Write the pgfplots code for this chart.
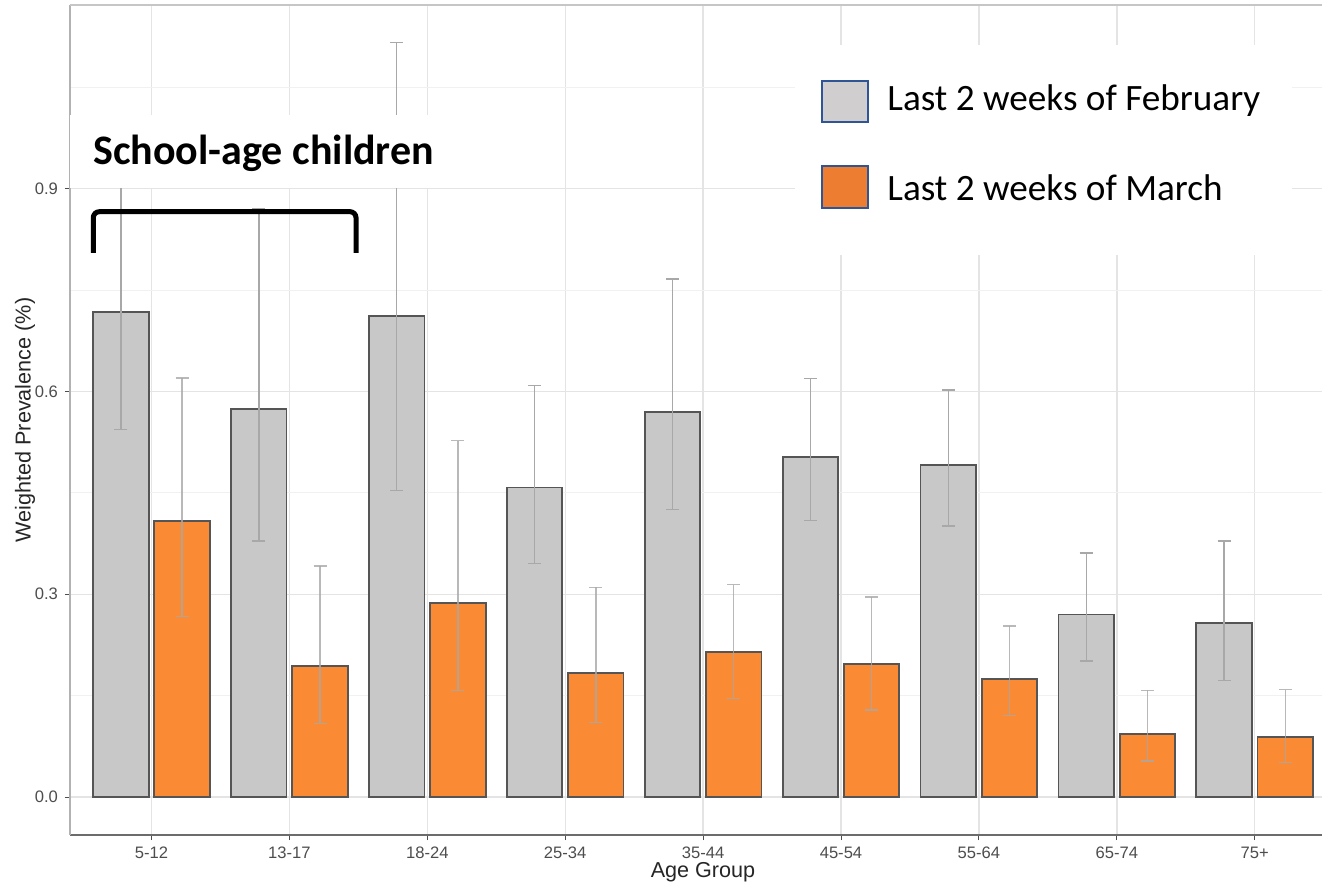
\documentclass[border=0pt]{standalone}
\usepackage{pgfplots}
\pgfplotsset{compat=1.18}
\usepackage{pgfplotstable}
\usepackage{fontspec}
\setmainfont{Liberation Sans}
\newfontfamily\calibri{Carlito}
\definecolor{barGrey}{HTML}{C8C8C8}
\definecolor{barOrange}{HTML}{FA8A33}
\definecolor{barEdge}{HTML}{555555}
\definecolor{errCol}{HTML}{A8A8A8}
\definecolor{legGrey}{HTML}{D0CECE}
\definecolor{legOrange}{HTML}{ED7D31}
\definecolor{legEdge}{HTML}{2F5597}
\definecolor{tickCol}{HTML}{4D4D4D}
\definecolor{gridMaj}{HTML}{E4E4E4}
\definecolor{gridMin}{HTML}{F1F1F1}

\pgfplotstableread{
x y lo hi
0 0.718 0.544 0.960
1 0.574 0.379 0.871
2 0.712 0.453 1.116
3 0.458 0.345 0.609
4 0.570 0.425 0.766
5 0.503 0.409 0.619
6 0.491 0.401 0.602
7 0.270 0.201 0.361
8 0.257 0.172 0.379
}\feb

\pgfplotstableread{
x y lo hi
0 0.408 0.267 0.620
1 0.194 0.109 0.342
2 0.287 0.158 0.527
3 0.184 0.110 0.310
4 0.214 0.146 0.314
5 0.197 0.129 0.296
6 0.174 0.121 0.253
7 0.093 0.053 0.158
8 0.089 0.051 0.159
}\mar

\begin{document}
\begin{tikzpicture}
\begin{axis}[
  at={(0,0)}, anchor=south west,
  scale only axis, width=626pt, height=415pt,
  xmin=-0.591, xmax=8.488, ymin=-0.0562, ymax=1.1716,
  ybar, bar width=27.75pt,
  xtick={0,...,8},
  xticklabels={5-12,13-17,18-24,25-34,35-44,45-54,55-64,65-74,75+},
  ytick={0,0.3,0.6,0.9}, yticklabels={0.0,0.3,0.6,0.9},
  minor ytick={0.15,0.45,0.75,1.05},
  grid=both,
  major grid style={gridMaj, line width=0.7pt},
  minor grid style={gridMin, line width=0.5pt},
  axis x line*=bottom, axis y line*=left,
  x axis line style={-, color=gray!85!black, line width=0.6pt},
  y axis line style={-, color=gray!60, line width=0.6pt},
  tick align=outside, major tick length=2.5pt, minor tick length=0pt,
  tick style={tickCol, line width=0.5pt},
  ticklabel style={font=\fontsize{8.3}{10}\selectfont, text=tickCol},
  /pgf/number format/assume math mode=true,
  xlabel={Age Group}, ylabel={Weighted Prevalence (\%)},
  label style={font=\fontsize{10.8}{13}\selectfont, text=black!85},
  xlabel style={at={(axis description cs:0.5056,-0.0446)}, anchor=center},
  ylabel style={at={(axis description cs:-0.0359,0.5)}, anchor=center},
]
\addplot[fill=barGrey, draw=barEdge, line width=0.9pt, bar shift=-15.3pt,
  error bars/.cd, y dir=both, y explicit,
  error bar style={errCol, line width=0.7pt},
  error mark options={rotate=90, errCol, line width=0.7pt, mark size=3.25pt}]
  table[x=x, y=y, y error plus expr=\thisrow{hi}-\thisrow{y}, y error minus expr=\thisrow{y}-\thisrow{lo}]{\feb};
\addplot[fill=barOrange, draw=barEdge, line width=0.9pt, bar shift=15.3pt,
  error bars/.cd, y dir=both, y explicit,
  error bar style={errCol, line width=0.7pt, opacity=0.8},
  error mark options={rotate=90, errCol, line width=0.7pt, mark size=3.25pt}]
  table[x=x, y=y, y error plus expr=\thisrow{hi}-\thisrow{y}, y error minus expr=\thisrow{y}-\thisrow{lo}]{\mar};
\draw[gray!45, line width=0.6pt] (rel axis cs:0,1) -- (rel axis cs:1,1);
\end{axis}
% annotation
\fill[white] (0pt,323.5pt) rectangle (210pt,360pt);
\node[anchor=base west, inner sep=0pt, font=\calibri\bfseries\fontsize{21}{25}\selectfont] at (11.5pt,335pt) {School-age children};
\draw[line width=2.5pt, rounded corners=3pt] (11.65pt,291pt) -- (11.65pt,311.65pt) -- (143pt,311.65pt) -- (143pt,291pt);
% legend
\fill[white] (362.5pt,290pt) rectangle (611pt,395pt);
\filldraw[fill=legGrey, draw=legEdge, line width=1pt] (376pt,356.5pt) rectangle (399pt,377pt);
\node[anchor=base west, inner sep=0pt, font=\calibri\fontsize{18.6}{22}\selectfont] at (408.5pt,362pt) {Last 2 weeks of February};
\filldraw[fill=legOrange, draw=legEdge, line width=1pt] (376pt,313.5pt) rectangle (399pt,334.5pt);
\node[anchor=base west, inner sep=0pt, font=\calibri\fontsize{18.6}{22}\selectfont] at (408.5pt,317pt) {Last 2 weeks of March};
\pgfresetboundingbox
\useasboundingbox (-35pt,-25pt) rectangle (626pt,417.5pt);
\end{tikzpicture}
\end{document}
